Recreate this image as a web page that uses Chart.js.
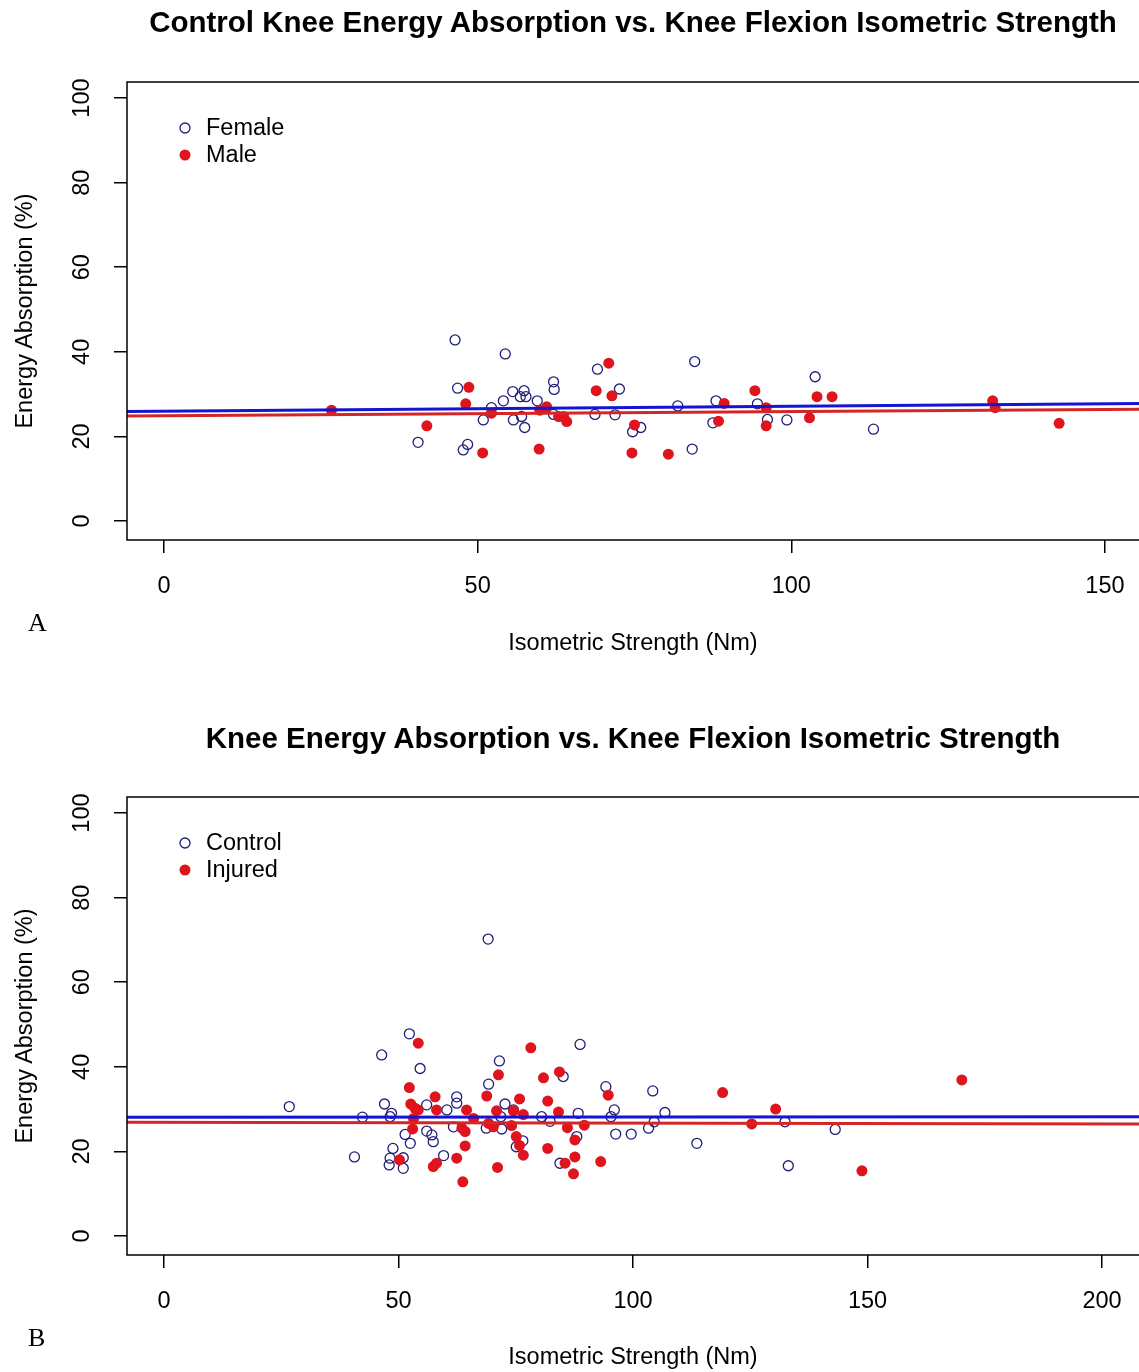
<!DOCTYPE html>
<html>
<head>
<meta charset="utf-8">
<script src="https://cdn.jsdelivr.net/npm/chart.js@4.4.1/dist/chart.umd.min.js"></script>
<style>
  body { margin: 0; background: #fff; }
  #page { position: relative; width: 1139px; height: 1372px; overflow: hidden; font-family: 'Liberation Sans', Arial, sans-serif; color: #000; }
  .panel { position: absolute; left: 0; width: 1139px; overflow: hidden; }
  .panel canvas { position: absolute; left: 0; top: 0; }
  .title { position: absolute; left: 127px; width: 1012px; text-align: center; font-weight: bold; font-size: 29.5px; line-height: 1; white-space: nowrap; }
  .xlab { position: absolute; left: 127px; width: 1012px; text-align: center; font-size: 23.5px; line-height: 1; }
  .ylab { position: absolute; left: 25px; font-size: 23.5px; line-height: 1; white-space: nowrap; transform: translate(-50%, -50%) rotate(-90deg); }
  .tag { position: absolute; font-family: 'Liberation Serif', 'Times New Roman', serif; font-size: 26px; line-height: 1; }
</style>
</head>
<body>
<div id="page">
  <div class="panel" style="top:0; height:715px;"><canvas id="chartA" width="1160" height="715"></canvas></div>
  <div class="panel" style="top:715px; height:657px;"><canvas id="chartB" width="1160" height="657"></canvas></div>

  <div class="title" style="top:7px;">Control Knee Energy Absorption vs. Knee Flexion Isometric Strength</div>
  <div class="ylab" style="top:311px;">Energy Absorption (%)</div>
  <div class="xlab" style="top:631px;">Isometric Strength (Nm)</div>
  <div class="tag" style="left:28px; top:610px;">A</div>

  <div class="title" style="top:723px;">Knee Energy Absorption vs. Knee Flexion Isometric Strength</div>
  <div class="ylab" style="top:1026px;">Energy Absorption (%)</div>
  <div class="xlab" style="top:1345px;">Isometric Strength (Nm)</div>
  <div class="tag" style="left:28px; top:1325px;">B</div>
</div>

<script>
// Marcas de los ejes
const yTicks = [0, 20, 40, 60, 80, 100];
const xTicksA = [0, 50, 100, 150];
const xTicksB = [0, 50, 100, 150, 200];
const xRangeA = [-5.9, 155.75];
const xRangeB = [-7.9, 208.3];
const yRange = [-4.5, 103.8];

// Gráfico A: controles, por sexo
const femaleStrength = [46.4, 46.8, 52.2, 50.9, 40.5, 48.4, 47.7, 54.4, 54.1, 55.6, 56.8, 57.4, 57.7, 59.5, 62.1, 62.2, 55.7, 57.0, 57.5, 62.1, 69.1, 72.6, 68.7, 71.9, 74.7, 76.0, 81.9, 84.2, 84.6, 88.0, 87.5, 94.6, 96.2, 99.3, 103.8, 113.1];
const femaleAbsorption = [42.8, 31.4, 26.8, 23.9, 18.6, 18.1, 16.8, 39.5, 28.4, 30.6, 29.4, 30.8, 29.4, 28.4, 32.9, 31.1, 23.9, 24.7, 22.1, 25.2, 35.9, 31.2, 25.2, 25.1, 21.1, 22.1, 27.2, 17.0, 37.7, 28.4, 23.2, 27.7, 24.0, 23.9, 34.1, 21.7];
const maleStrength = [26.7, 41.9, 48.6, 48.1, 52.2, 50.8, 61.0, 59.9, 62.9, 63.7, 64.2, 59.8, 68.9, 70.9, 71.4, 75.0, 74.6, 80.4, 89.3, 88.4, 94.2, 96.0, 96.0, 102.9, 104.1, 106.5, 132.1, 132.5, 142.7];
const maleAbsorption = [26.2, 22.5, 31.6, 27.7, 25.5, 16.1, 27.0, 26.2, 24.7, 24.7, 23.5, 17.0, 30.8, 37.3, 29.6, 22.7, 16.1, 15.8, 27.8, 23.6, 30.8, 26.8, 22.5, 24.4, 29.4, 29.4, 28.4, 26.8, 23.1];
// rectas de ajuste (valor en el borde izquierdo y derecho)
const femaleFit = [25.9, 27.8];
const maleFit = [24.8, 26.4];

// Gráfico B: control vs lesionados
const controlStrength = [26.7, 40.6, 42.3, 46.4, 47.0, 48.5, 48.2, 51.4, 52.5, 48.8, 48.2, 51.0, 48.0, 51.0, 52.3, 54.6, 56.0, 56.0, 57.1, 57.4, 59.6, 60.3, 61.7, 62.4, 62.4, 69.2, 69.1, 71.5, 72.7, 74.5, 68.7, 72.0, 71.8, 76.5, 75.1, 80.5, 82.3, 84.4, 85.1, 88.0, 88.3, 88.7, 94.2, 95.3, 96.0, 96.3, 99.6, 103.3, 104.2, 104.5, 106.8, 113.6, 132.4, 133.1, 143.1];
const controlAbsorption = [30.6, 18.7, 28.1, 42.8, 31.2, 29.0, 28.2, 24.0, 21.9, 20.7, 18.4, 18.5, 16.8, 16.0, 47.8, 39.6, 31.0, 24.8, 23.9, 22.3, 19.0, 29.8, 25.8, 32.9, 31.4, 35.9, 70.2, 41.4, 31.2, 29.8, 25.5, 25.3, 28.2, 22.5, 21.1, 28.2, 27.1, 17.2, 37.7, 23.5, 29.0, 45.3, 35.3, 28.2, 29.8, 24.1, 24.1, 25.5, 34.3, 27.0, 29.2, 21.9, 27.0, 16.6, 25.2];
const injuredStrength = [52.3, 52.6, 53.5, 54.2, 53.2, 53.0, 54.2, 57.8, 58.1, 50.2, 58.1, 57.4, 62.4, 63.7, 64.2, 64.5, 63.5, 64.2, 66.0, 68.8, 69.2, 70.2, 70.9, 71.3, 71.1, 74.1, 74.5, 75.1, 75.8, 75.8, 76.6, 76.6, 78.2, 80.9, 81.8, 81.8, 84.1, 84.3, 85.5, 86.0, 87.6, 87.6, 87.3, 89.6, 93.1, 94.7, 119.1, 125.3, 130.4, 148.8, 170.1];
const injuredAbsorption = [35.1, 31.2, 30.2, 29.8, 27.8, 25.3, 45.6, 32.9, 29.8, 18.0, 17.2, 16.4, 18.4, 12.8, 21.3, 29.8, 25.5, 24.7, 27.8, 33.1, 26.6, 25.8, 29.6, 38.1, 16.2, 26.1, 29.6, 23.5, 21.4, 32.4, 28.7, 19.1, 44.5, 37.4, 31.9, 20.7, 29.3, 38.8, 17.2, 25.6, 22.7, 18.7, 14.7, 26.2, 17.6, 33.3, 33.9, 26.5, 30.0, 15.4, 36.9];
const controlFit = [28.1, 28.2];
const injuredFit = [26.9, 26.5];

const NAVY = '#1f1f7a';
const RED = '#e0141c';
const BLUE_LINE = '#1414d2';
const RED_LINE = '#d42626';
const FONT = "'Liberation Sans', Arial, sans-serif";

function toPoints(xs, ys) {
  return xs.map((x, i) => ({ x: x, y: ys[i] }));
}

// caja alrededor del área del gráfico + leyenda dentro
const boxAndLegend = {
  id: 'boxAndLegend',
  afterDraw(chart, args, opts) {
    const { ctx, chartArea: a } = chart;
    ctx.save();
    ctx.strokeStyle = '#000';
    ctx.lineWidth = 1.5;
    ctx.strokeRect(a.left, a.top, a.right - a.left, a.bottom - a.top);

    ctx.font = '23.5px ' + FONT;
    ctx.textBaseline = 'middle';
    ctx.fillStyle = '#000';
    opts.items.forEach((item, i) => {
      const cx = a.left + 58;
      const cy = a.top + 46 + i * 27;
      ctx.beginPath();
      ctx.arc(cx, cy, item.filled ? 5.5 : 5, 0, Math.PI * 2);
      if (item.filled) {
        ctx.fillStyle = RED;
        ctx.fill();
      } else {
        ctx.strokeStyle = NAVY;
        ctx.lineWidth = 1.3;
        ctx.stroke();
      }
      ctx.fillStyle = '#000';
      ctx.fillText(item.label, a.left + 79, cy + 1);
    });
    ctx.restore();
  }
};

function makeChart(canvas, cfg) {
  const xAxisHeight = 60;
  return new Chart(canvas, {
    type: 'scatter',
    data: {
      datasets: [
        {
          type: 'line', label: cfg.openLabel + ' fit',
          data: [{ x: cfg.xRange[0], y: cfg.openFit[0] }, { x: cfg.xRange[1], y: cfg.openFit[1] }],
          borderColor: BLUE_LINE, borderWidth: 3, pointRadius: 0, fill: false
        },
        {
          type: 'line', label: cfg.filledLabel + ' fit',
          data: [{ x: cfg.xRange[0], y: cfg.filledFit[0] }, { x: cfg.xRange[1], y: cfg.filledFit[1] }],
          borderColor: RED_LINE, borderWidth: 3, pointRadius: 0, fill: false
        },
        {
          label: cfg.filledLabel,
          data: cfg.filled,
          pointRadius: 5.5, backgroundColor: RED, borderColor: RED, borderWidth: 0
        },
        {
          label: cfg.openLabel,
          data: cfg.open,
          pointRadius: 5, backgroundColor: 'rgba(0,0,0,0)', borderColor: NAVY, borderWidth: 1.3
        }
      ]
    },
    options: {
      responsive: false,
      animation: false,
      events: [],
      layout: { padding: { left: 0, top: 82, right: 19, bottom: canvas.height - 540 - xAxisHeight } },
      plugins: {
        legend: { display: false },
        tooltip: { enabled: false },
        boxAndLegend: { items: [{ label: cfg.openLabel, filled: false }, { label: cfg.filledLabel, filled: true }] }
      },
      scales: {
        x: {
          type: 'linear',
          min: cfg.xRange[0], max: cfg.xRange[1],
          afterBuildTicks: s => { s.ticks = cfg.xTicks.map(v => ({ value: v })); },
          afterFit: s => { s.height = xAxisHeight; },
          border: { display: false },
          grid: { drawOnChartArea: false, drawTicks: true, tickLength: 13, color: '#000', lineWidth: 1.5 },
          ticks: { color: '#000', font: { family: FONT, size: 23.5 }, padding: 19, maxRotation: 0, autoSkip: false }
        },
        y: {
          type: 'linear',
          min: yRange[0], max: yRange[1],
          afterBuildTicks: s => { s.ticks = yTicks.map(v => ({ value: v })); },
          afterFit: s => { s.width = 127; },
          border: { display: false },
          grid: { drawOnChartArea: false, drawTicks: true, tickLength: 13, color: '#000', lineWidth: 1.5 },
          ticks: { color: '#000', font: { family: FONT, size: 23.5 }, padding: 12, minRotation: 90, maxRotation: 90, crossAlign: 'center', autoSkip: false }
        }
      }
    },
    plugins: [boxAndLegend]
  });
}

makeChart(document.getElementById('chartA'), {
  xRange: xRangeA, xTicks: xTicksA,
  openLabel: 'Female', filledLabel: 'Male',
  open: toPoints(femaleStrength, femaleAbsorption),
  filled: toPoints(maleStrength, maleAbsorption),
  openFit: femaleFit, filledFit: maleFit
});

makeChart(document.getElementById('chartB'), {
  xRange: xRangeB, xTicks: xTicksB,
  openLabel: 'Control', filledLabel: 'Injured',
  open: toPoints(controlStrength, controlAbsorption),
  filled: toPoints(injuredStrength, injuredAbsorption),
  openFit: controlFit, filledFit: injuredFit
});
</script>
</body>
</html>
